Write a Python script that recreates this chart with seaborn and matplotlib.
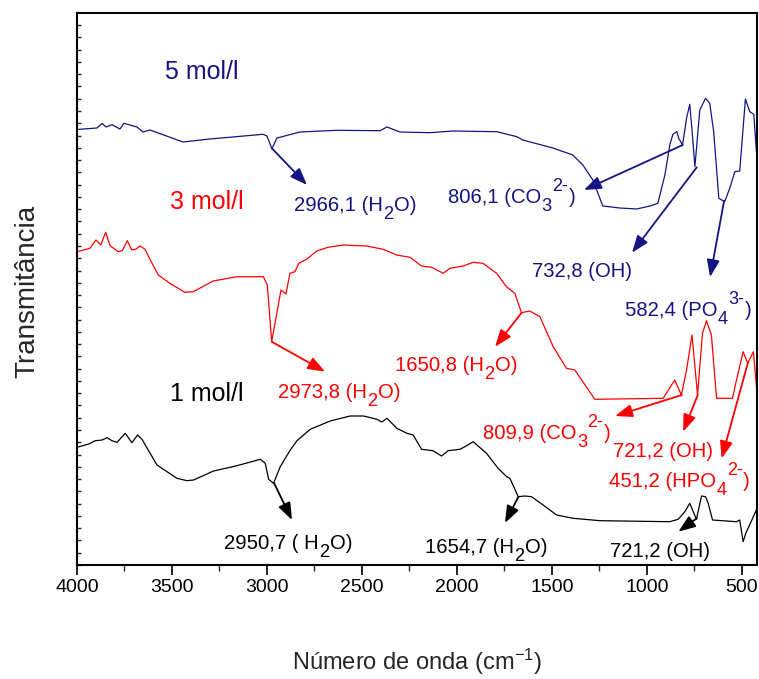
import numpy as np
import pandas as pd
import seaborn as sns
import matplotlib
matplotlib.use("Agg")
import matplotlib.pyplot as plt
from matplotlib.ticker import MultipleLocator

# ---------------- data (wavenumber cm-1, transmittance in arbitrary units) ----------------
blue_wn = [4000, 3895, 3868, 3847, 3816, 3774, 3753, 3684, 3653, 3616, 3442, 3300, 3021, 3000, 2974,
           2947, 2826, 2632, 2405, 2368, 2300, 2142, 2021, 1790, 1684, 1653, 1495, 1390, 1337, 1284,
           1232, 1142, 1053, 984, 942, 905, 879, 863, 842, 832, 812, 791, 774, 760, 747,
           721, 691, 669, 648, 621, 590, 563, 537, 511, 481, 458, 437, 423]
blue_T = [435.5, 437, 441.5, 438, 440.3, 436, 441.7, 438, 433, 435, 423, 426, 430.7, 429, 416.3,
          427, 433, 434.7, 434.3, 438, 433, 432.3, 434, 433.3, 428.3, 425, 417, 410, 400, 385,
          359, 357, 356, 359, 361.7, 390, 420, 430.7, 433.3, 426.7, 420, 446.7, 460.7, 430, 398.3,
          455, 466.7, 461.7, 433.3, 366.7, 363.3, 377, 393.3, 394, 466, 453.3, 450.7, 413.3]

red_wn = [4000, 3932, 3900, 3875, 3849, 3826, 3783, 3762, 3735, 3712, 3691, 3668, 3642, 3616, 3572,
          3511, 3432, 3388, 3283, 3159, 3019, 2998, 2975, 2926, 2900, 2879, 2853, 2832, 2791, 2738,
          2679, 2598, 2475, 2388, 2317, 2247, 2186, 2133, 2072, 2037, 1967, 1914, 1862, 1791, 1739,
          1695, 1660, 1616, 1563, 1493, 1423, 1379, 1274, 914, 853, 818, 791, 762, 733, 707,
          686, 660, 633, 549, 528, 493, 469, 439, 421]
red_T = [313.3, 316.7, 325, 320, 332.7, 319.3, 313.3, 314.3, 324.3, 315, 315.7, 319, 315.7, 305.7, 290,
         281.7, 272.7, 273.3, 284, 288.3, 288.3, 280, 223.3, 275, 271, 291.7, 293.3, 301.7, 305.7, 314,
         317.7, 320, 319, 315.7, 310, 307.7, 299, 297.7, 291.7, 296.7, 299, 302.7, 301.7, 291.7, 278.3,
         271.7, 252.3, 254, 248.3, 218.3, 196.7, 195, 165.7, 166.7, 185, 170, 195, 230, 170, 231.7,
         244.3, 230, 166.7, 166.7, 185, 213.3, 201.7, 213.3, 175]

black_wn = [4000, 3938, 3904, 3868, 3842, 3816, 3789, 3746, 3711, 3681, 3658, 3579, 3526, 3474, 3421,
            3386, 3281, 3158, 3035, 3009, 2991, 2965, 2951, 2930, 2877, 2842, 2772, 2667, 2562, 2491,
            2421, 2395, 2368, 2316, 2263, 2230, 2186, 2125, 2081, 2046, 1984, 1958, 1914, 1844, 1783,
            1738, 1721, 1677, 1642, 1607, 1546, 1475, 1388, 1247, 879, 835, 800, 774, 739, 712,
            691, 677, 654, 528, 511, 493, 479, 421]
black_T = [117.7, 121, 124.3, 125, 127.3, 124.3, 122.7, 131.7, 122.3, 130, 125.7, 100, 93.3, 86.7, 84.3,
           85, 94, 99.3, 105.7, 101.7, 85.7, 81.7, 88.3, 98.3, 115, 124.3, 135.7, 144, 149, 149,
           145.7, 143, 146.7, 136.7, 131.7, 130, 115.7, 114.3, 109, 114.3, 115.7, 118.3, 123.3, 111.7, 96.7,
           88.3, 86.7, 68.3, 69, 68.3, 60, 50, 46.7, 44.3, 43.3, 45.7, 53.3, 61.7, 45.7, 69,
           68.3, 61.7, 45, 43.3, 45, 23.3, 31.7, 56]

series_names = ["5 mol/l", "3 mol/l", "1 mol/l"]
x_ticks = [4000, 3500, 3000, 2500, 2000, 1500, 1000, 500]

# series labels: (text, wavenumber, T)
series_labels = [("5 mol/l", 3537, 486), ("3 mol/l", 3510, 356), ("1 mol/l", 3510, 164)]

# peak annotations: (series, text parts, text_wn, text_T, tail_wn, tail_T, head_wn, head_T)
# text parts: (string, kind) with kind n = normal, b = subscript, p = superscript
annotations = [
    ("5 mol/l", [("2966,1 (H", "n"), ("2", "b"), ("O)", "n")], 2857, 354, 2973, 416.5, 2789, 380),
    ("5 mol/l", [("806,1 (CO", "n"), ("3", "b"), ("2-", "p"), (")", "n")], 2047, 362, 811, 420, 1331, 375),
    ("5 mol/l", [("732,8 (OH)", "n")], 1604, 288, 737, 397.7, 1078, 312.3),
    ("5 mol/l", [("582,4 (PO", "n"), ("4", "b"), ("3-", "p"), (")", "n")], 1115, 249, 593, 364.3, 667, 288),
    ("3 mol/l", [("2973,8 (H", "n"), ("2", "b"), ("O)", "n")], 2942, 167, 2975, 223.3, 2694, 193.3),
    ("3 mol/l", [("1650,8 (H", "n"), ("2", "b"), ("O)", "n")], 2326, 194, 1659, 252.3, 1799, 218.3),
    ("3 mol/l", [("809,9 (CO", "n"), ("3", "b"), ("2-", "p"), (")", "n")], 1862, 126, 816, 170, 1167, 149),
    ("3 mol/l", [("721,2 (OH)", "n")], 1178, 108, 732, 170, 809, 133.3),
    ("3 mol/l", [("451,2 (HPO", "n"), ("4", "b"), ("2-", "p"), (")", "n")], 1199, 78, 467, 203, 606, 106.7),
    ("1 mol/l", [("2950,7 ( H", "n"), ("2", "b"), ("O)", "n")], 3226, 16, 2963, 82, 2868, 45),
    ("1 mol/l", [("1654,7 (H", "n"), ("2", "b"), ("O)", "n")], 2168, 12, 1677, 68, 1747, 42),
    ("1 mol/l", [("721,2 (OH)", "n")], 1194, 8, 737, 46.7, 834, 33.3),
]

colors = {"5 mol/l": "#141482", "3 mol/l": "#ff0000", "1 mol/l": "#000000"}

# ---------------- figure ----------------
sns.set_theme(style="white")
plt.rcParams["font.family"] = ["Liberation Sans", "DejaVu Sans"]
plt.rcParams["mathtext.default"] = "regular"

df = pd.concat([
    pd.DataFrame({"wn": blue_wn, "T": blue_T, "amostra": series_names[0]}),
    pd.DataFrame({"wn": red_wn, "T": red_T, "amostra": series_names[1]}),
    pd.DataFrame({"wn": black_wn, "T": black_T, "amostra": series_names[2]}),
], ignore_index=True)

fig = plt.figure(figsize=(7.59, 6.79), dpi=100)
ax = fig.add_axes([77 / 759, 1 - 565 / 679, 680 / 759, 552 / 679])

sns.lineplot(data=df, x="wn", y="T", hue="amostra", palette=colors, estimator=None,
             linewidth=0.9, legend=False, ax=ax)

ax.set_xlim(4000, 420)
ax.set_ylim(0, 552)

ax.set_xticks(x_ticks)
ax.set_xticklabels([str(t) for t in x_ticks])
ax.xaxis.set_minor_locator(MultipleLocator(250))
ax.tick_params(axis="x", which="major", direction="out", length=7, width=1.2,
               labelsize=14, pad=3, bottom=True, colors="black")
ax.tick_params(axis="x", which="minor", direction="out", length=4, width=1.0, bottom=True)
ax.yaxis.set_major_locator(MultipleLocator(12.27))
ax.tick_params(axis="y", which="major", direction="in", length=3, width=1.0,
               left=True, labelleft=False)

for s in ax.spines.values():
    s.set_linewidth(1.5)
    s.set_color("black")

ax.set_xlabel("Número de onda (cm$^{-1}$)", fontsize=17, va="center")
ax.xaxis.set_label_coords(0.5, -0.176)
ax.set_ylabel("Transmitância", fontsize=20, va="center")
ax.yaxis.set_label_coords(-0.0735, 0.495)

for name, x, y in series_labels:
    ax.text(x, y, name, color=colors[name], fontsize=18, ha="left", va="baseline")

renderer = fig.canvas.get_renderer()
FS = 14.6


def rich_text(x, y, parts, color):
    """Draw text pieces one after another; subscripts lowered, superscripts raised."""
    off = 0.0
    for s, kind in parts:
        if kind == "n":
            fs, dy = FS, 0.0
        elif kind == "b":
            fs, dy = FS * 0.9, -5.5
        else:
            fs, dy = FS * 0.88, 8.5
        t = ax.annotate(s, (x, y), xytext=(off, dy), textcoords="offset points",
                        fontsize=fs, color=color, ha="left", va="baseline")
        w = t.get_window_extent(renderer).width * 72.0 / fig.dpi
        off += w + 0.3


for name, parts, tx, ty, x0, y0, x1, y1 in annotations:
    c = colors[name]
    rich_text(tx, ty, parts, c)
    ax.annotate("", xy=(x1, y1), xytext=(x0, y0),
                arrowprops=dict(arrowstyle="-|>,head_length=0.8,head_width=0.3",
                                color=c, lw=1.3, shrinkA=0, shrinkB=0, mutation_scale=13))

fig.savefig("out.png", dpi=100)
